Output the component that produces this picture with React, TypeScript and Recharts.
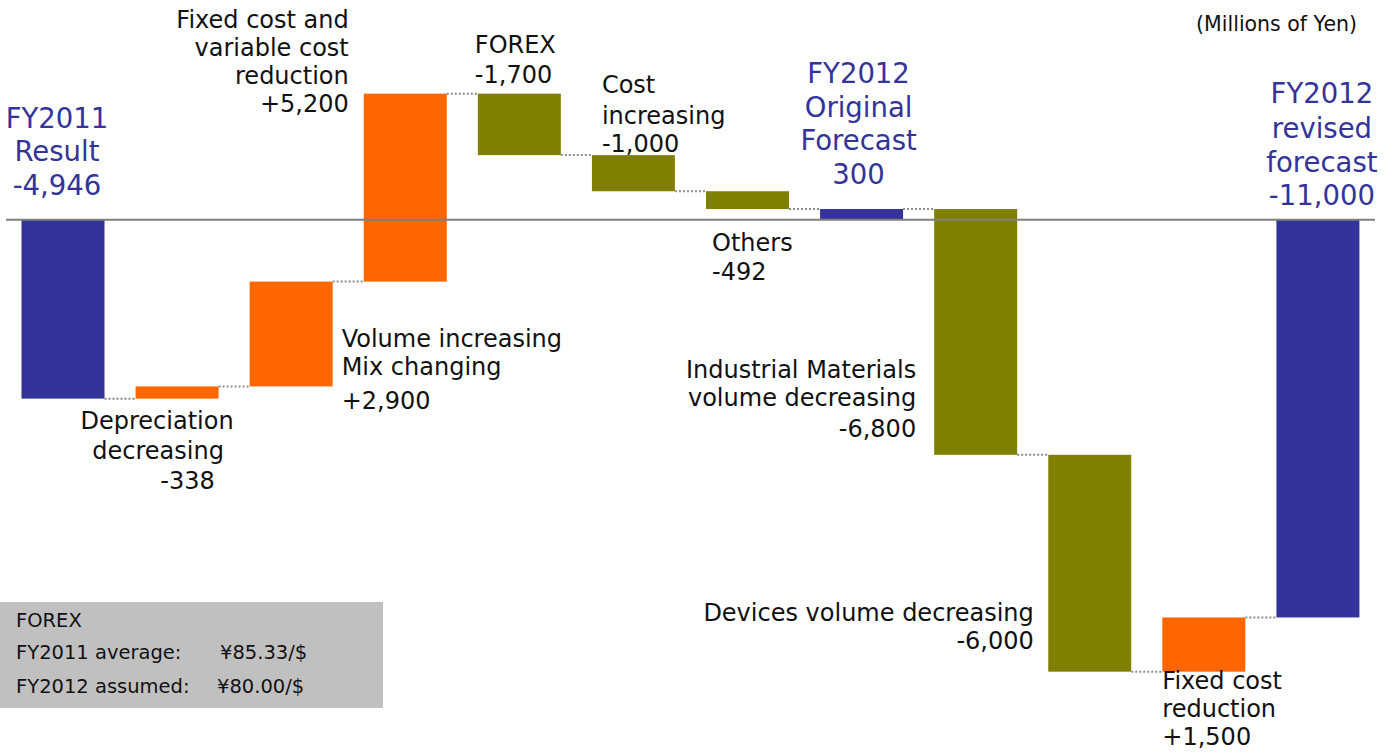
import React from 'react';
import { ComposedChart, Bar, XAxis, YAxis, ReferenceLine } from 'recharts';

// ---------- data ----------
const categories = [
  'FY2011 Result',
  'Depreciation decreasing',
  'Volume increasing / Mix changing',
  'Fixed cost and variable cost reduction',
  'FOREX',
  'Cost increasing',
  'Others',
  'FY2012 Original Forecast',
  'Industrial Materials volume decreasing',
  'Devices volume decreasing',
  'Fixed cost reduction',
  'FY2012 revised forecast',
];
// change of each step (totals are absolute values)
const changes = [-4946, 338, 2900, 5200, -1700, -1000, -492, 300, -6800, -6000, 1500, -11000];
const isTotal = [true, false, false, false, false, false, false, true, false, false, false, true];
const labelTexts = [
  ['FY2011', 'Result', '-4,946'],
  ['Depreciation', 'decreasing', '-338'],
  ['Volume increasing', 'Mix changing', '+2,900'],
  ['Fixed cost and', 'variable cost', 'reduction', '+5,200'],
  ['FOREX', '-1,700'],
  ['Cost', 'increasing', '-1,000'],
  ['Others', '-492'],
  ['FY2012', 'Original', 'Forecast', '300'],
  ['Industrial Materials', 'volume decreasing', '-6,800'],
  ['Devices volume decreasing', '-6,000'],
  ['Fixed cost', 'reduction', '+1,500'],
  ['FY2012', 'revised', 'forecast', '-11,000'],
];
const unitLabel = '(Millions of Yen)';
const forexTitle = 'FOREX';
const forexRows = [
  ['FY2011 average:', '¥85.33/$'],
  ['FY2012 assumed:', '¥80.00/$'],
];
const yDomain = [-14750, 6000];

// ---------- styles ----------
const FONT = '"DejaVu Sans", Verdana, sans-serif';
const BLUE = '#333399';
const ORANGE = '#FF6600';
const OLIVE = '#808000';
const TEXT = '#111111';
const CONNECTOR = '#8c8c8c';
const CAT_GAP = 15.5;

type Place = {
  ref: 'top' | 'bottom';
  x: 'left' | 'right' | 'center';
  dx: number;
  anchor: 'start' | 'middle' | 'end';
  dys: number[];
  ldx?: number[];
  big?: boolean;
};

const labelPlacement: Place[] = [
  { ref: 'top', x: 'center', dx: -6, anchor: 'middle', dys: [-92, -58.5, -25], big: true },
  { ref: 'bottom', x: 'center', dx: 0, anchor: 'middle', dys: [30.5, 60, 90], ldx: [-20, -19, 10.5] },
  { ref: 'bottom', x: 'right', dx: 9, anchor: 'start', dys: [-39.7, -11, 23] },
  { ref: 'top', x: 'left', dx: -15, anchor: 'end', dys: [-66, -38, -10, 18] },
  { ref: 'top', x: 'left', dx: -3, anchor: 'start', dys: [-40.5, -10.5] },
  { ref: 'top', x: 'left', dx: 10, anchor: 'start', dys: [-62, -31, -3.2] },
  { ref: 'bottom', x: 'left', dx: 6, anchor: 'start', dys: [42.4, 70.7] },
  { ref: 'top', x: 'center', dx: -3, anchor: 'middle', dys: [-126, -91.6, -58.6, -25.3], big: true },
  { ref: 'bottom', x: 'left', dx: -18, anchor: 'end', dys: [-77.2, -48.8, -18.2] },
  { ref: 'bottom', x: 'left', dx: -14.5, anchor: 'end', dys: [-51, -22.7] },
  { ref: 'bottom', x: 'left', dx: 0, anchor: 'start', dys: [17.5, 45.5, 73.5] },
  { ref: 'top', x: 'center', dx: 4, anchor: 'middle', dys: [-117, -82, -47.5, -15.2], big: true },
];

// ---------- build table ----------
let running = 0;
const data = categories.map((name, i) => {
  const start = isTotal[i] ? 0 : running;
  const end = isTotal[i] ? changes[i] : running + changes[i];
  running = end;
  return { name, start, end, range: [start, end], total: isTotal[i], idx: i };
});

const WaterfallShape = (props: any) => {
  const { x, y, width, height, payload } = props;
  const i: number = payload.idx;
  const top = Math.min(y, y + height);
  const h = Math.abs(height);
  const bottom = top + h;
  const fill = payload.total ? BLUE : payload.end >= payload.start ? ORANGE : OLIVE;
  const endY = payload.end >= payload.start ? top : bottom;
  const place = labelPlacement[i];
  const refY = place.ref === 'top' ? top : bottom;
  const baseX =
    (place.x === 'left' ? x : place.x === 'right' ? x + width : x + width / 2) + place.dx;
  const lines = labelTexts[i];
  return (
    <g>
      <rect x={x} y={top} width={width} height={h} fill={fill} />
      {i < data.length - 1 && (
        <line
          x1={x + width}
          x2={x + width + 2 * CAT_GAP}
          y1={endY}
          y2={endY}
          stroke={CONNECTOR}
          strokeWidth={2}
          strokeDasharray="2 2"
        />
      )}
      {lines.map((t, k) => (
        <text
          key={k}
          x={baseX + (place.ldx ? place.ldx[k] : 0)}
          y={refY + place.dys[k]}
          textAnchor={place.anchor}
          fontFamily={FONT}
          fontSize={place.big ? 27.5 : 24}
          fill={place.big ? BLUE : TEXT}
        >
          {t}
        </text>
      ))}
    </g>
  );
};

export default function App() {
  return (
    <div style={{ position: 'absolute', left: 0, top: 0, width: 1399, height: 753, background: '#fff' }}>
      <ComposedChart
        width={1399}
        height={753}
        data={data}
        margin={{ top: 3, right: 24, bottom: 0, left: 6 }}
        barCategoryGap={CAT_GAP}
      >
        <XAxis dataKey="name" hide />
        <YAxis hide domain={yDomain} type="number" allowDataOverflow />
        <Bar dataKey="range" isAnimationActive={false} shape={WaterfallShape} />
        <ReferenceLine y={0} stroke="#808080" strokeWidth={2} />
      </ComposedChart>
      <svg
        width={1399}
        height={753}
        style={{ position: 'absolute', left: 0, top: 0, pointerEvents: 'none' }}
      >
        <text x={1357} y={31} textAnchor="end" fontFamily={FONT} fontSize={20.5} fill={TEXT}>
          {unitLabel}
        </text>
        <rect x={0} y={602} width={383} height={106} fill="#C0C0C0" />
        <text x={16} y={627} fontFamily={FONT} fontSize={19.5} fill={TEXT}>
          {forexTitle}
        </text>
        {forexRows.map((row, k) => (
          <text key={k} y={[659, 693][k]} fontFamily={FONT} fontSize={19.5} fill={TEXT}>
            <tspan x={16}>{row[0]}</tspan>
            <tspan x={[220, 217][k]}>{row[1]}</tspan>
          </text>
        ))}
      </svg>
    </div>
  );
}
